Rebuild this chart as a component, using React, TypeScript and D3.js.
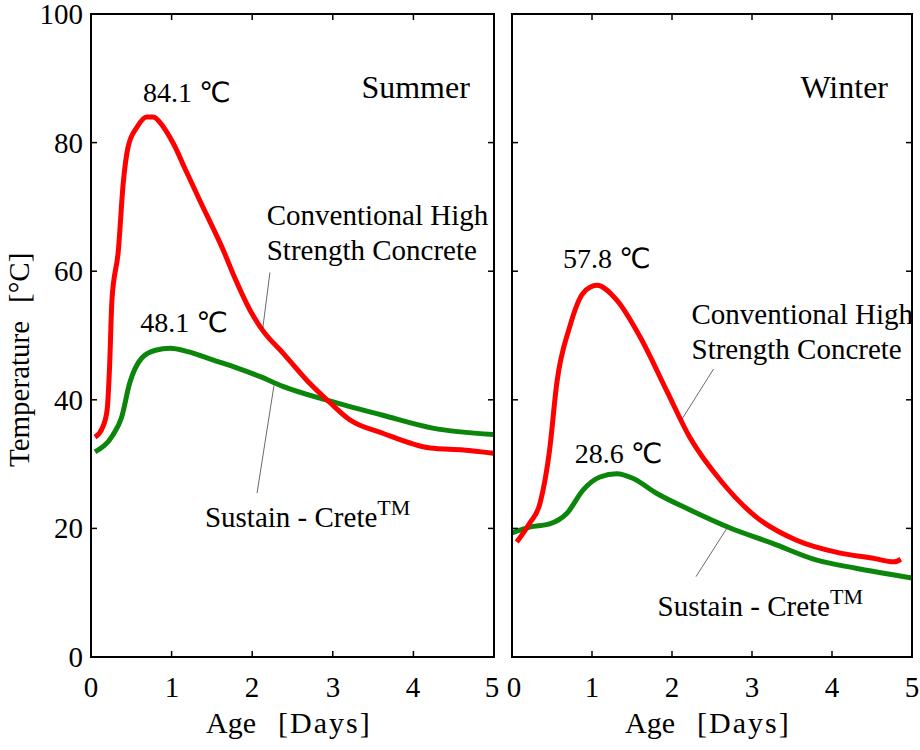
import React, { useEffect, useRef } from "react";
import * as d3 from "d3";

// Summer – conventional high strength concrete [age (days), temperature (°C)]
const summerConventional: [number, number][] = [
  [0.05, 34.2], [0.14, 35.6], [0.2, 38.4], [0.23, 45], [0.26, 55.5], [0.34, 63.3],
  [0.4, 73.7], [0.46, 79.3], [0.57, 82.4], [0.69, 84.0], [0.77, 84.0], [0.9, 82.4],
  [1.02, 79.9], [1.19, 75.3], [1.35, 71.0], [1.64, 63.3], [1.8, 58.5], [1.97, 54.0],
  [2.13, 50.8], [2.38, 47.3], [2.68, 43.0], [2.97, 39.5], [3.21, 36.9], [3.62, 34.8],
  [4.21, 32.5], [4.62, 32.2], [4.99, 31.7],
];
// Summer – Sustain-Crete
const summerSustain: [number, number][] = [
  [0.05, 31.9], [0.27, 34.5], [0.38, 37.3], [0.48, 42.6], [0.63, 46.5], [0.8, 47.7],
  [0.98, 48.0], [1.2, 47.5], [1.51, 46.2], [1.8, 45.0], [2.1, 43.6], [2.38, 42.1],
  [2.97, 39.8], [3.62, 37.6], [4.24, 35.6], [4.99, 34.6],
];
// Winter – conventional high strength concrete
const winterConventional: [number, number][] = [
  [0.06, 17.9], [0.22, 20.8], [0.35, 23.9], [0.47, 32.2], [0.56, 42.6], [0.72, 51.3],
  [0.89, 56.6], [1.06, 57.8], [1.31, 55.5], [1.6, 49.8], [1.93, 41.5], [2.22, 34.2],
  [2.63, 27.1], [3.05, 21.8], [3.55, 18.2], [4.09, 16.2], [4.5, 15.4], [4.78, 14.8],
  [4.86, 15.2],
];
// Winter – Sustain-Crete
const winterSustain: [number, number][] = [
  [0.0, 19.3], [0.22, 20.2], [0.47, 20.7], [0.69, 22.4], [0.89, 26.0], [1.1, 28.0],
  [1.31, 28.5], [1.51, 27.8], [1.8, 25.5], [2.22, 22.9], [2.72, 20.1], [3.25, 17.7],
  [3.8, 15.1], [4.3, 13.8], [5.0, 12.3],
];

const xTicks = [0, 1, 2, 3, 4, 5];
const yTicks = [0, 20, 40, 60, 80, 100];
const panelTitles = ["Summer", "Winter"];
const peakValues = [
  ["84.1", "48.1"],
  ["57.8", "28.6"],
];
const convLabel = ["Conventional High", "Strength Concrete"];
const xTitle = ["Age", "[Days]"];
const yTitle = ["Temperature", "[°C]"];

const SERIF = "Liberation Serif";
const SANS = "DejaVu Sans";
const RED = "#ff0000";
const GREEN = "#0b860b";

const top = 14;
const bottom = 657;
const panels = [
  { x0: 91, x1: 494 },
  { x0: 512, x1: 912 },
];

const y = d3.scaleLinear().domain([0, 100]).range([bottom, top]);

type Ann = {
  title: [number, number];
  peakRed: [number, number];
  peakGreen: [number, number];
  conv: [number, number];
  convLeader: [number, number, number, number];
  sus: [number, number];
  susLeader: [number, number, number, number];
};

// annotation positions in data coordinates (age, temp)
const anns: Ann[] = [
  {
    title: [4.7, 87],
    peakRed: [0.645, 86.3],
    peakGreen: [0.61, 50.5],
    conv: [2.18, 67.2],
    convLeader: [2.22, 59.8, 2.13, 51],
    sus: [1.414, 20.2],
    susLeader: [2.27, 42.2, 2.06, 25.5],
  },
  {
    title: [4.7, 87],
    peakRed: [0.636, 60.5],
    peakGreen: [0.785, 30.2],
    conv: [2.244, 51.8],
    convLeader: [2.52, 44.8, 2.12, 36.9],
    sus: [1.82, 6.4],
    susLeader: [2.69, 20.1, 2.3, 12.5],
  },
];

const seriesByPanel = [
  [summerConventional, summerSustain],
  [winterConventional, winterSustain],
];

function Panel({ idx }: { idx: number }) {
  const p = panels[idx];
  const x = d3.scaleLinear().domain([0, 5]).range([p.x0, p.x1]);
  const line = d3
    .line<[number, number]>()
    .x((d) => x(d[0]))
    .y((d) => y(d[1]))
    .curve(d3.curveMonotoneX);
  const a = anns[idx];
  const [red, green] = seriesByPanel[idx];
  const tl = 6;
  const cx = Math.round((p.x0 + p.x1) / 2);
  return (
    <g>
      <path d={line(green) || ""} fill="none" stroke={GREEN} strokeWidth={5} strokeLinejoin="round" />
      <path d={line(red) || ""} fill="none" stroke={RED} strokeWidth={5} strokeLinejoin="round" />
      <rect x={p.x0} y={top} width={p.x1 - p.x0} height={bottom - top} fill="none" stroke="#000" strokeWidth={2} />
      {xTicks.map((t) => (
        <g key={"xt" + t}>
          <line x1={x(t)} x2={x(t)} y1={bottom} y2={bottom - tl} stroke="#000" strokeWidth={1.5} />
          <line x1={x(t)} x2={x(t)} y1={top} y2={top + tl} stroke="#000" strokeWidth={1.5} />
          <text
            className="serif-force"
            x={Math.round(x(t) + (idx === 0 && t === 5 ? -2 : idx === 1 && t === 0 ? 2 : 0))}
            y={697}
            fontSize={29}
            fontFamily={SERIF}
            textAnchor="middle"
          >
            {String(t)}
          </text>
        </g>
      ))}
      {yTicks.map((t) => (
        <g key={"yt" + t}>
          <line x1={p.x0} x2={p.x0 + tl} y1={y(t)} y2={y(t)} stroke="#000" strokeWidth={1.5} />
          <line x1={p.x1} x2={p.x1 - tl} y1={y(t)} y2={y(t)} stroke="#000" strokeWidth={1.5} />
          {idx === 0 && (
            <text
              className="serif-force"
              x={p.x0 - 8}
              y={Math.round(y(t) + 10)}
              fontSize={29}
              fontFamily={SERIF}
              textAnchor="end"
            >
              {String(t)}
            </text>
          )}
        </g>
      ))}
      <text className="serif-force" x={cx - 87} y={733} fontSize={30} fontFamily={SERIF}>
        {xTitle[0]}
        <tspan dx={22} letterSpacing={2}>{xTitle[1]}</tspan>
      </text>
      <text x={x(a.title[0])} y={y(a.title[1])} fontSize={32} fontFamily={SERIF} textAnchor="end">
        {panelTitles[idx]}
      </text>
      <text x={x(a.peakRed[0])} y={y(a.peakRed[1])} fontSize={28} fontFamily={SERIF}>
        {peakValues[idx][0] + " "}
        <tspan fontFamily={SANS}>℃</tspan>
      </text>
      <text x={x(a.peakGreen[0])} y={y(a.peakGreen[1])} fontSize={28} fontFamily={SERIF}>
        {peakValues[idx][1] + " "}
        <tspan fontFamily={SANS}>℃</tspan>
      </text>
      <text x={x(a.conv[0])} y={y(a.conv[1])} fontSize={29} fontFamily={SERIF}>
        <tspan x={x(a.conv[0])}>{convLabel[0]}</tspan>
        <tspan x={x(a.conv[0])} dy={35}>{convLabel[1]}</tspan>
      </text>
      <line
        x1={x(a.convLeader[0])} y1={y(a.convLeader[1])}
        x2={x(a.convLeader[2])} y2={y(a.convLeader[3])}
        stroke="#444" strokeWidth={0.8}
      />
      <text x={x(a.sus[0])} y={y(a.sus[1])} fontSize={29} fontFamily={SERIF}>
        Sustain - Crete
        <tspan dy={-12} fontSize={22}>TM</tspan>
      </text>
      <line
        x1={x(a.susLeader[0])} y1={y(a.susLeader[1])}
        x2={x(a.susLeader[2])} y2={y(a.susLeader[3])}
        stroke="#444" strokeWidth={0.8}
      />
    </g>
  );
}

export default function App() {
  const ref = useRef<SVGSVGElement>(null);
  useEffect(() => {
    if (!ref.current) return;
    d3.select(ref.current)
      .selectAll<SVGTextElement, unknown>("text.serif-force, text.serif-force tspan")
      .each(function () {
        this.style.setProperty("font-family", SERIF, "important");
      });
  }, []);
  return (
    <svg
      ref={ref}
      width={920}
      height={750}
      style={{ position: "absolute", left: 0, top: 0, background: "#fff" }}
    >
      <rect width={920} height={750} fill="#fff" />
      <Panel idx={0} />
      <Panel idx={1} />
      <text className="serif-force" transform={`translate(29, 467) rotate(-90)`} fontSize={29} fontFamily={SERIF}>
        {yTitle[0]}
        <tspan dx={18}>{yTitle[1]}</tspan>
      </text>
    </svg>
  );
}
